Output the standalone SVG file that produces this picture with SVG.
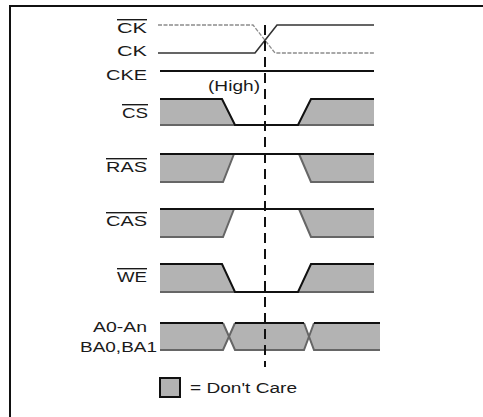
<svg xmlns="http://www.w3.org/2000/svg" width="483" height="417" viewBox="0 0 483 417">
<style>
.lbl{font-family:"Liberation Sans",Arial,sans-serif;font-size:14px;fill:#1a1a1a}
.ov{text-decoration:overline}
.sig{fill:none;stroke:#111;stroke-width:2;stroke-linejoin:miter}
.edge{fill:none;stroke:#666;stroke-width:2}
.dc{fill:#b3b3b3;stroke:none}
.frame{fill:none;stroke:#111;stroke-width:2}
</style>
<rect width="483" height="417" fill="#fff"/>
<path class="frame" d="M10,417 V6 H483"/>

<g id="ck_n">
<text class="lbl ov" x="117" y="33" textLength="30" lengthAdjust="spacingAndGlyphs">CK</text>
<path d="M158,25 H253 L275,53 H374" fill="none" stroke="#8c8c8c" stroke-width="1.3" stroke-dasharray="4 1.5"/>
</g>
<g id="ck">
<text class="lbl" x="117" y="56" textLength="30" lengthAdjust="spacingAndGlyphs">CK</text>
<path d="M158,53 H255 L277,25 H374" fill="none" stroke="#333" stroke-width="1.6"/>
</g>
<g id="cke">
<text class="lbl" x="106" y="80" textLength="41" lengthAdjust="spacingAndGlyphs">CKE</text>
<path class="sig" d="M160,71 H374"/>
<text class="lbl" x="208" y="91" textLength="52" lengthAdjust="spacingAndGlyphs">(High)</text>
</g>
<g id="cs">
<text class="lbl ov" x="122" y="118" textLength="26" lengthAdjust="spacingAndGlyphs">CS</text>
<path class="dc" d="M160,99 H222 L235,125 H160 Z M311,99 H374 V125 H298 Z"/>
<path class="edge" d="M160,125 H235 M298,125 H374"/>
<path class="sig" d="M160,99 H222 L235,125 H298 L311,99 H374"/>
</g>
<g id="ras">
<text class="lbl ov" x="106" y="172" textLength="41" lengthAdjust="spacingAndGlyphs">RAS</text>
<path class="dc" d="M160,154 H234 L223,182 H160 Z M299,154 H374 V182 H311 Z"/>
<path class="edge" d="M160,182 H223 L234,154 M299,154 L311,182 H374"/>
<path class="sig" d="M160,154 H374"/>
</g>
<g id="cas">
<text class="lbl ov" x="106" y="226" textLength="41" lengthAdjust="spacingAndGlyphs">CAS</text>
<path class="dc" d="M160,209 H234 L223,237 H160 Z M299,209 H374 V237 H311 Z"/>
<path class="edge" d="M160,237 H223 L234,209 M299,209 L311,237 H374"/>
<path class="sig" d="M160,209 H374"/>
</g>
<g id="we">
<text class="lbl ov" x="117" y="282" textLength="30" lengthAdjust="spacingAndGlyphs">WE</text>
<path class="dc" d="M160,264 H222 L235,292 H160 Z M311,264 H374 V292 H298 Z"/>
<path class="edge" d="M160,292 H235 M298,292 H374"/>
<path class="sig" d="M160,264 H222 L235,292 H298 L311,264 H374"/>
</g>
<g id="addr">
<text class="lbl" x="93" y="332" textLength="54" lengthAdjust="spacingAndGlyphs">A0-An</text>
<text class="lbl" x="80" y="352" textLength="77" lengthAdjust="spacingAndGlyphs">BA0,BA1</text>
<path class="dc" d="M160,323 H223 L229,336.5 L223,350 H160 Z M235,323 H304 L309,336.5 L304,350 H235 L229,336.5 Z M314,323 H380 V350 H314 L309,336.5 Z"/>
<path class="edge" d="M160,350 H223 L235,323 M223,323 L235,350 H304 L314,323 M304,323 L314,350 H380"/>
<path class="sig" d="M160,323 H223 M235,323 H304 M314,323 H380"/>
</g>
<g id="legend">
<rect x="160" y="378" width="20" height="19" fill="#b3b3b3" stroke="#111" stroke-width="2"/>
<text class="lbl" x="190" y="393" textLength="107" lengthAdjust="spacingAndGlyphs">= Don't Care</text>
</g>
<g id="connectors">
<path d="M265,25 V367" fill="none" stroke="#111" stroke-width="2" stroke-dasharray="10 6"/>
</g>
</svg>
